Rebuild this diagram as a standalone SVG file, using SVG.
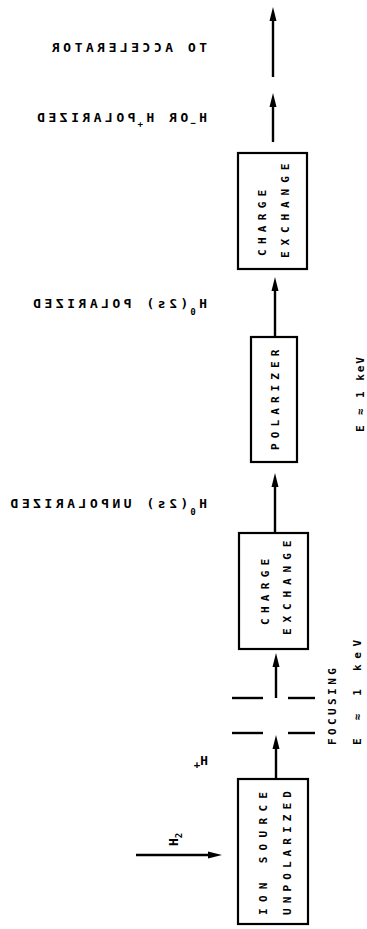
<svg xmlns="http://www.w3.org/2000/svg" width="367" height="929" viewBox="0 0 367 929">
<style>
.box{fill:none;stroke:#000;stroke-width:2.2}
.ln{stroke:#000;stroke-width:2.4;fill:none}
.ar{stroke:#000;stroke-width:2.4;fill:none;marker-end:url(#ah)}
text{font-family:"DejaVu Sans Mono","Liberation Mono",monospace;font-weight:bold;fill:#000}
.nt{font-size:11px;letter-spacing:5.3px}
.lb{font-size:13px;letter-spacing:3.5px}
.sub{font-size:9px;letter-spacing:2px}
</style>
<defs>
<marker id="ah" viewBox="0 0 14 8" refX="6" refY="4" markerWidth="14" markerHeight="8" markerUnits="userSpaceOnUse" orient="auto">
<path d="M0,0.5 L14,4 L0,7.5 Z" fill="#000"/>
</marker>
</defs>
<rect width="367" height="929" fill="#fff"/>
<g id="connectors">
<line class="ar" x1="136" y1="855" x2="214" y2="855"/>
<line class="ar" x1="276" y1="779" x2="276" y2="743"/>
<line class="ar" x1="276" y1="698" x2="276" y2="661"/>
<line class="ar" x1="275" y1="533" x2="275" y2="481"/>
<line class="ar" x1="275" y1="337" x2="275" y2="285"/>
<line class="ar" x1="273" y1="142" x2="273" y2="101"/>
<line class="ar" x1="273" y1="77" x2="273" y2="15"/>
</g>
<g id="focusing">
<line class="ln" x1="232" y1="698" x2="263" y2="698"/>
<line class="ln" x1="288" y1="698" x2="315" y2="698"/>
<line class="ln" x1="232" y1="733" x2="263" y2="733"/>
<line class="ln" x1="288" y1="733" x2="315" y2="733"/>
<text class="nt" style="letter-spacing:3.4px" transform="translate(336,745) rotate(-90)">FOCUSING</text>
</g>
<g id="ion-source">
<rect class="box" x="238" y="779" width="70" height="145"/>
<text class="nt" style="letter-spacing:6.3px" transform="translate(267,915) rotate(-90)">ION SOURCE</text>
<text class="nt" style="letter-spacing:5.1px" transform="translate(291,915) rotate(-90)">UNPOLARIZED</text>
</g>
<g id="charge-exchange-1">
<rect class="box" x="239" y="533" width="69" height="116"/>
<text class="nt" transform="translate(269,625) rotate(-90)">CHARGE</text>
<text class="nt" style="letter-spacing:5.9px" transform="translate(291,635) rotate(-90)">EXCHANGE</text>
</g>
<g id="polarizer">
<rect class="box" x="251" y="337" width="46" height="125"/>
<text class="nt" style="letter-spacing:5.1px" transform="translate(279,450) rotate(-90)">POLARIZER</text>
</g>
<g id="charge-exchange-2">
<rect class="box" x="238" y="153" width="69" height="116"/>
<text class="nt" transform="translate(266,256) rotate(-90)">CHARGE</text>
<text class="nt" style="letter-spacing:5.9px" transform="translate(289,258) rotate(-90)">EXCHANGE</text>
</g>
<g id="labels">
<text style="font-size:13px" transform="translate(178,846) rotate(-90)">H<tspan class="sub" dy="4">2</tspan></text>
<g transform="matrix(-1 0 0 1 208 0)">
<text style="font-size:13px" x="0" y="765">H<tspan style="font-size:11px" dy="3">+</tspan></text>
</g>
<g transform="matrix(-1 0 0 1 207 0)">
<text class="lb" x="0" y="52">TO ACCELERATOR</text>
<text class="lb" x="0" y="122">H<tspan class="sub" dy="4">−</tspan><tspan dy="-4">OR H</tspan><tspan class="sub" dy="5">+</tspan><tspan dy="-5">POLARIZED</tspan></text>
<text class="lb" x="0" y="308">H<tspan class="sub" dy="7">0</tspan><tspan dy="-7">(2s) POLARIZED</tspan></text>
<text class="lb" x="0" y="508">H<tspan class="sub" dy="7">0</tspan><tspan dy="-7">(2s) UNPOLARIZED</tspan></text>
</g>
<text class="nt" style="letter-spacing:1.9px" transform="translate(364,432) rotate(-90)">E ≈ 1 keV</text>
<text class="nt" style="letter-spacing:5.7px" transform="translate(361,745) rotate(-90)">E ≈ 1 keV</text>
</g>
</svg>
